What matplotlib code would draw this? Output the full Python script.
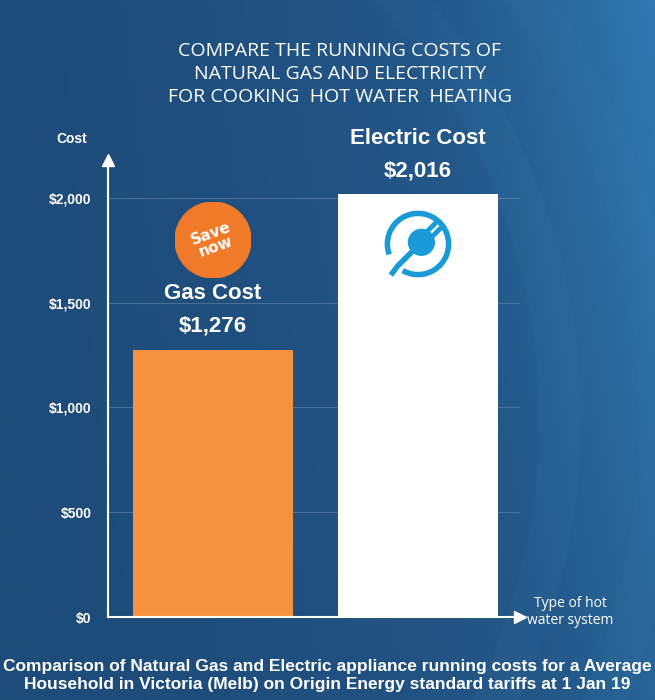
import numpy as np
import matplotlib.pyplot as plt
from matplotlib import font_manager
from matplotlib.patches import Circle, Arc

categories = ["Gas Cost", "Electric Cost"]
costs = [1276, 2016]
bar_colors = ["#f5923e", "#ffffff"]
yticks = [0, 500, 1000, 1500, 2000]
ytick_labels = ["$0", "$500", "$1,000", "$1,500", "$2,000"]

names = {f.name for f in font_manager.fontManager.ttflist}
narrow = "Liberation Sans Narrow" if "Liberation Sans Narrow" in names else "Liberation Sans"

W, H = 655, 700
fig = plt.figure(figsize=(W / 100, H / 100), dpi=100)

# background gradient with soft lighter sweeps on the right
bg = fig.add_axes([0, 0, 1, 1], zorder=-10)
xx, yy = np.meshgrid(np.linspace(0, 1, 300), np.linspace(0, 1, 300))
grad = 0.55 * xx ** 2 + 0.25 * (1 - yy) * xx
bg.imshow(grad, cmap=plt.matplotlib.colors.LinearSegmentedColormap.from_list(
    "bgc", ["#1e4c7a", "#235889", "#2f78b0"]), extent=[0, W, 0, H], aspect="auto", origin="upper")
for r, a in [(640, 0.05), (740, 0.04)]:
    bg.add_patch(Arc((-80, 280), 2 * r, 2 * r, theta1=-40, theta2=60, color="#6fb0e0", lw=30, alpha=a))
bg.set_xlim(0, W)
bg.set_ylim(0, H)
bg.axis("off")

ax = fig.add_axes([108 / W, 1 - 617 / H, 412 / W, 457 / H])
ax.set_facecolor("none")
xpos = np.arange(len(costs))
ax.bar(xpos, costs, width=0.78, color=bar_colors, zorder=2)
ax.set_xlim(-0.512, 1.498)
ax.set_ylim(0, 2180)
ax.set_yticks(yticks)
ax.set_yticklabels(ytick_labels, color="white", fontsize=10, fontweight="bold", family="Liberation Sans")
ax.set_xticks([])
ax.tick_params(axis="y", length=0, pad=12)
ax.grid(axis="y", color="#6f8fb5", lw=0.8, alpha=0.5, zorder=1)
for s in ["top", "right"]:
    ax.spines[s].set_visible(False)
for s in ["left", "bottom"]:
    ax.spines[s].set_color("white")
    ax.spines[s].set_linewidth(1.5)
ax.plot(0, 1, "^", color="white", ms=8, transform=ax.transAxes, clip_on=False)
ax.plot(1, 0, ">", color="white", ms=8, transform=ax.transAxes, clip_on=False)

# bar labels
for x, c, v in zip(xpos, categories, costs):
    ax.text(x, v + 215, c, ha="center", va="bottom", color="white", fontsize=16, fontweight="bold", family=narrow)
    ax.text(x, v + 60, f"${v:,}", ha="center", va="bottom", color="white", fontsize=16, fontweight="bold", family=narrow)

# "Save now" badge
bad = fig.add_axes([(213 - 38) / W, 1 - (240 + 38) / H, 76 / W, 76 / H])
bad.add_patch(Circle((0, 0), 1, color="#f07a28"))
bad.text(0, 0, "Save\nnow", ha="center", va="center", rotation=20, color="white",
         fontsize=11, fontweight="bold", linespacing=0.9)
bad.set_xlim(-1, 1); bad.set_ylim(-1, 1); bad.axis("off")

# electric plug icon
ic = fig.add_axes([(418 - 34) / W, 1 - (244 + 34) / H, 68 / W, 68 / H])
ic.add_patch(Arc((0, 0), 1.8, 1.8, theta1=-120, theta2=200, color="#1a9bd7", lw=4))
ic.add_patch(Circle((0.1, 0.05), 0.38, color="#1a9bd7"))
ic.plot([0.25, 0.5], [0.35, 0.6], color="#1a9bd7", lw=3.5, solid_capstyle="round")
ic.plot([0.4, 0.65], [0.2, 0.45], color="#1a9bd7", lw=3.5, solid_capstyle="round")
ic.plot([-0.15, -0.6, -0.75], [-0.2, -0.65, -0.85], color="#1a9bd7", lw=4)
ic.set_xlim(-1, 1); ic.set_ylim(-1, 1); ic.axis("off")

# texts
title = "COMPARE THE RUNNING COSTS OF\nNATURAL GAS AND ELECTRICITY\nFOR COOKING  HOT WATER  HEATING"
fig.text(340 / W, 1 - 74 / H, title, ha="center", va="center", color="white", fontsize=14,
         family="Open Sans", linespacing=1.35)
fig.text(72 / W, 1 - 139 / H, "Cost", ha="center", va="center", color="white", fontsize=10,
         fontweight="bold", family="Liberation Sans")
fig.text(570 / W, 1 - 612 / H, "Type of hot\nwater system", ha="center", va="center", color="white",
         fontsize=10, family="Open Sans")
fig.text(0.5, 1 - 676 / H,
         "Comparison of Natural Gas and Electric appliance running costs for a Average\n"
         "Household in Victoria (Melb) on Origin Energy standard tariffs at 1 Jan 19",
         ha="center", va="center", color="white", fontsize=12.5, fontweight="bold",
         family=narrow, linespacing=1.25)

fig.savefig("out.png", dpi=100)
